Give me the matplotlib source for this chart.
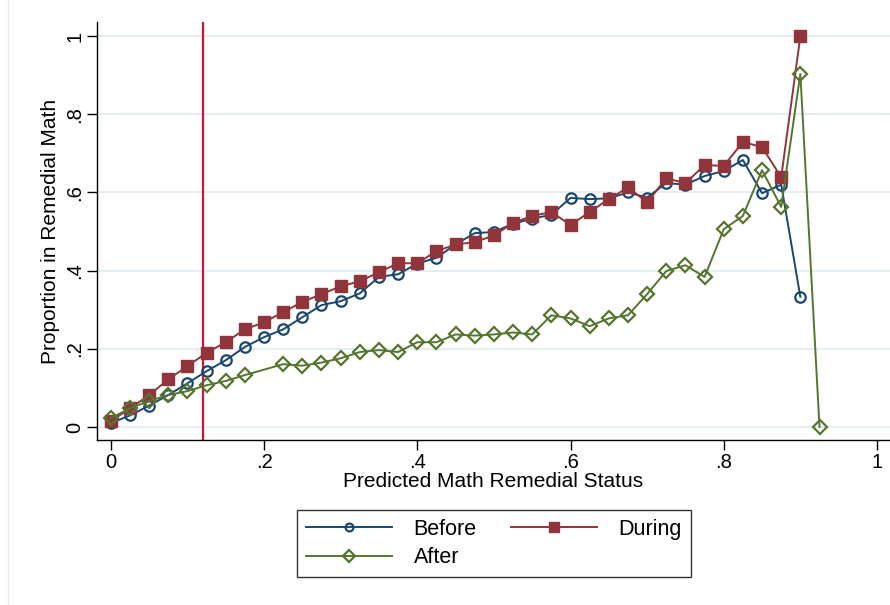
# -*- coding: utf-8 -*-
# Proportion in remedial math by predicted remedial status, before/during/after

import matplotlib.pyplot as plt
from matplotlib.lines import Line2D

plt.rcParams['font.family'] = ['Liberation Sans', 'DejaVu Sans']

# Bin midpoints of predicted remedial status
bins_before = [0, .025, .05, .075, .1, .125, .15, .175, .2, .225, .25, .275,
               .3, .325, .35, .375, .4, .425, .45, .475, .5, .525, .55, .575,
               .6, .625, .65, .675, .7, .725, .75, .775, .8, .825, .85, .875, .9]
bins_during = bins_before
bins_after = [0, .025, .05, .075, .1, .125, .15, .175, .225, .25, .275,
              .3, .325, .35, .375, .4, .425, .45, .475, .5, .525, .55, .575,
              .6, .625, .65, .675, .7, .725, .75, .775, .8, .825, .85, .875, .9, .925]

before = [0.010, 0.030, 0.055, 0.082, 0.112, 0.143, 0.171, 0.205, 0.230, 0.250,
          0.281, 0.312, 0.322, 0.342, 0.384, 0.391, 0.418, 0.433, 0.467, 0.496,
          0.499, 0.520, 0.533, 0.543, 0.586, 0.583, 0.585, 0.600, 0.587, 0.624,
          0.620, 0.642, 0.655, 0.683, 0.598, 0.620, 0.333]
during = [0.015, 0.048, 0.082, 0.122, 0.156, 0.190, 0.217, 0.250, 0.268, 0.294,
          0.320, 0.340, 0.360, 0.373, 0.396, 0.419, 0.419, 0.450, 0.467, 0.473,
          0.490, 0.522, 0.540, 0.550, 0.517, 0.550, 0.583, 0.613, 0.575, 0.636,
          0.624, 0.670, 0.668, 0.729, 0.716, 0.639, 1.000]
after = [0.023, 0.048, 0.067, 0.082, 0.092, 0.107, 0.118, 0.133, 0.161, 0.157,
         0.165, 0.176, 0.192, 0.197, 0.192, 0.217, 0.217, 0.237, 0.234, 0.237,
         0.242, 0.237, 0.286, 0.278, 0.258, 0.278, 0.286, 0.340, 0.399, 0.414,
         0.384, 0.506, 0.540, 0.657, 0.563, 0.903, 0.000]

cutoff = 0.12
ticks = [0, 0.2, 0.4, 0.6, 0.8, 1]
tick_labels = ['0', '.2', '.4', '.6', '.8', '1']

NAVY = '#1a476f'
MAROON = '#90353b'
GREEN = '#55752f'

fig = plt.figure(figsize=(8.9, 6.05), dpi=100)
ax = fig.add_axes([0.109, 0.2727, 0.891, 0.691])

for t in ticks:
    ax.axhline(t, color='#e6eef1', lw=1.4, zorder=0)
ax.axvline(cutoff, color='#d2103f', lw=1.6, zorder=1)

l_before, = ax.plot(bins_before, before, color=NAVY, lw=1.4, marker='o', ms=7.5,
                    mfc='none', mec=NAVY, mew=1.6, label='Before', zorder=2)
l_during, = ax.plot(bins_during, during, color=MAROON, lw=1.4, marker='s', ms=8.8,
                    mfc=MAROON, mec=MAROON, label='During', zorder=3)
l_after, = ax.plot(bins_after, after, color=GREEN, lw=1.4, marker='D', ms=7.5,
                   mfc='none', mec=GREEN, mew=1.6, label='After', zorder=4)

ax.set_xlim(-0.018, 1.017)
ax.set_ylim(-0.033, 1.036)
ax.set_xticks(ticks)
ax.set_xticklabels(tick_labels, fontsize=14.5)
ax.set_yticks(ticks)
ax.set_yticklabels(tick_labels, fontsize=14.5, rotation=90, va='center')
ax.tick_params(length=7, width=1, color='black', pad=2)

ax.set_xlabel('Predicted Math Remedial Status', fontsize=15, labelpad=0)
ax.set_ylabel('Proportion in Remedial Math', fontsize=15, labelpad=4)

for side in ['top', 'right']:
    ax.spines[side].set_visible(False)
for side in ['left', 'bottom']:
    ax.spines[side].set_linewidth(1)
    ax.spines[side].set_color('black')

# Column-wise fill: Before/After in column one, During in column two
leg = ax.legend([l_before, l_after, l_during], ['Before', 'After', 'During'],
                loc='center', bbox_to_anchor=(0.555, 0.1017),
                bbox_transform=fig.transFigure, ncol=2, fontsize=15.5,
                frameon=True, fancybox=False, edgecolor='black',
                handlelength=4.0, handletextpad=1.0, columnspacing=1.6,
                borderpad=0.4, labelspacing=0.35, markerscale=0.75)
leg.get_frame().set_linewidth(1)

# Thin outline on the left edge of the graph region
fig.add_artist(Line2D([8 / 890, 8 / 890], [0, 1], transform=fig.transFigure,
                      color='#ececec', lw=1))

plt.savefig('out.png', dpi=100)
